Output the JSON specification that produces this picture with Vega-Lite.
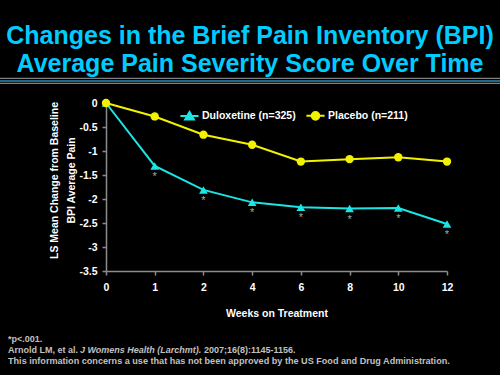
{
  "$schema": "https://vega.github.io/schema/vega-lite/v6.json",
  "autosize": {"type": "none"},
  "width": 341,
  "height": 168,
  "padding": {"left": 106, "top": 103, "right": 53, "bottom": 104},
  "background": "#000000",
  "title": {
    "text": ["Changes in the Brief Pain Inventory (BPI)", "Average Pain Severity Score Over Time"],
    "color": "#00CCFF",
    "font": "Liberation Sans",
    "fontSize": 25,
    "fontWeight": "bold",
    "lineHeight": 27.5,
    "anchor": "middle",
    "frame": "group",
    "dx": -26.5,
    "offset": 1
  },
  "config": {
    "view": {"stroke": null},
    "font": "Liberation Sans",
    "axis": {
      "grid": false,
      "domainColor": "#8C8C8C",
      "tickColor": "#8C8C8C",
      "domainWidth": 1.5,
      "tickWidth": 1.5,
      "tickSize": 4,
      "labelColor": "#FFFFFF",
      "labelFont": "Liberation Sans",
      "labelFontWeight": "bold",
      "labelFontSize": 10.5,
      "titleColor": "#FFFFFF",
      "titleFont": "Liberation Sans",
      "titleFontWeight": "bold",
      "titleFontSize": 10.5
    }
  },
  "resolve": {"scale": {"x": "independent", "y": "independent"}, "axis": {"x": "independent", "y": "independent"}},
  "layer": [
    {
      "data": {
        "values": [
          {"week": 0, "series": "Duloxetine (n=325)", "change": 0, "sig": ""},
          {"week": 1, "series": "Duloxetine (n=325)", "change": -1.31, "sig": "*"},
          {"week": 2, "series": "Duloxetine (n=325)", "change": -1.81, "sig": "*"},
          {"week": 4, "series": "Duloxetine (n=325)", "change": -2.07, "sig": "*"},
          {"week": 6, "series": "Duloxetine (n=325)", "change": -2.17, "sig": "*"},
          {"week": 8, "series": "Duloxetine (n=325)", "change": -2.2, "sig": "*"},
          {"week": 10, "series": "Duloxetine (n=325)", "change": -2.19, "sig": "*"},
          {"week": 12, "series": "Duloxetine (n=325)", "change": -2.52, "sig": "*"},
          {"week": 0, "series": "Placebo (n=211)", "change": 0, "sig": ""},
          {"week": 1, "series": "Placebo (n=211)", "change": -0.28, "sig": ""},
          {"week": 2, "series": "Placebo (n=211)", "change": -0.66, "sig": ""},
          {"week": 4, "series": "Placebo (n=211)", "change": -0.87, "sig": ""},
          {"week": 6, "series": "Placebo (n=211)", "change": -1.22, "sig": ""},
          {"week": 8, "series": "Placebo (n=211)", "change": -1.17, "sig": ""},
          {"week": 10, "series": "Placebo (n=211)", "change": -1.13, "sig": ""},
          {"week": 12, "series": "Placebo (n=211)", "change": -1.22, "sig": ""}
        ]
      },
      "encoding": {
        "x": {
          "field": "week",
          "type": "ordinal",
          "sort": [0, 1, 2, 4, 6, 8, 10, 12],
          "scale": {"type": "point", "padding": 0},
          "axis": {"title": "Weeks on Treatment", "labelAngle": 0, "labelPadding": 7, "titlePadding": 16}
        },
        "y": {
          "field": "change",
          "type": "quantitative",
          "scale": {"domain": [-3.5, 0], "nice": false, "zero": false},
          "axis": {
            "title": ["LS Mean Change from Baseline", "BPI Average Pain"],
            "titleLineHeight": 17,
            "titlePadding": 2,
            "titleY": 77,
            "labelPadding": 5,
            "values": [0, -0.5, -1, -1.5, -2, -2.5, -3, -3.5],
            "labelExpr": "'' + datum.value"
          }
        }
      },
      "layer": [
        {
          "transform": [{"filter": "datum.series === 'Duloxetine (n=325)'"}],
          "mark": {"type": "line", "strokeWidth": 2, "color": "#1AE6E6"}
        },
        {
          "transform": [{"filter": "datum.series === 'Placebo (n=211)'"}],
          "mark": {"type": "line", "strokeWidth": 2, "color": "#F2F200"}
        },
        {
          "transform": [{"filter": "datum.series === 'Duloxetine (n=325)'"}],
          "mark": {"type": "point", "filled": true, "size": 75, "opacity": 1, "shape": "triangle-up", "color": "#1AE6E6"}
        },
        {
          "transform": [{"filter": "datum.series === 'Placebo (n=211)'"}],
          "mark": {"type": "point", "filled": true, "size": 70, "opacity": 1, "shape": "circle", "color": "#F2F200"}
        },
        {
          "transform": [{"filter": "datum.sig === '*'"}],
          "mark": {"type": "text", "dy": 11, "fontSize": 11, "color": "#A8A8A8", "font": "Liberation Sans"},
          "encoding": {"text": {"field": "sig"}}
        },
        {
          "transform": [{"filter": "datum.week < 0"}],
          "mark": {"type": "point", "strokeWidth": 2, "opacity": 1},
          "encoding": {
            "fill": {
              "field": "series",
              "type": "nominal",
              "scale": {"domain": ["Duloxetine (n=325)", "Placebo (n=211)"], "range": ["#1AE6E6", "#F2F200"]},
              "legend": {
                "orient": "none",
                "legendX": 73,
                "legendY": 2,
                "direction": "horizontal",
                "title": null,
                "padding": 0,
                "labelColor": "#FFFFFF",
                "labelFont": "Liberation Sans",
                "labelFontWeight": "bold",
                "labelFontSize": 10.5,
                "labelOffset": 2,
                "columnPadding": 6,
                "symbolSize": 330,
                "symbolStrokeWidth": 2,
                "symbolOpacity": 1
              }
            },
            "stroke": {
              "field": "series",
              "type": "nominal",
              "scale": {"domain": ["Duloxetine (n=325)", "Placebo (n=211)"], "range": ["#1AE6E6", "#F2F200"]}
            },
            "shape": {
              "field": "series",
              "type": "nominal",
              "scale": {"domain": ["Duloxetine (n=325)", "Placebo (n=211)"], "range": ["M-1,0H1M0,-0.45L0.48,0.38H-0.48Z", "M-1,0H1M0.42,0A0.42,0.42 0 1 1 -0.42,0A0.42,0.42 0 1 1 0.42,0Z"]}
            }
          }
        }
      ]
    },
    {
      "data": {"values": [{}]},
      "mark": {"type": "rule", "color": "#7F7F7F", "strokeWidth": 1.3},
      "encoding": {
        "x": {"datum": 0, "type": "quantitative", "scale": {"domain": [106, 447], "zero": false, "nice": false}, "axis": null},
        "x2": {"datum": 500},
        "y": {"datum": 78.3, "type": "quantitative", "scale": {"domain": [103, 271], "reverse": true, "zero": false, "nice": false}, "axis": null}
      }
    },
    {
      "data": {"values": [{}]},
      "mark": {"type": "rule", "color": "#2E8BB8", "strokeWidth": 1.3},
      "encoding": {
        "x": {"datum": 0, "type": "quantitative", "scale": {"domain": [106, 447], "zero": false, "nice": false}, "axis": null},
        "x2": {"datum": 500},
        "y": {"datum": 81, "type": "quantitative", "scale": {"domain": [103, 271], "reverse": true, "zero": false, "nice": false}, "axis": null}
      }
    },
    {
      "data": {"values": [{}]},
      "mark": {"type": "rule", "color": "#7F7F7F", "strokeWidth": 1.3},
      "encoding": {
        "x": {"datum": 0, "type": "quantitative", "scale": {"domain": [106, 447], "zero": false, "nice": false}, "axis": null},
        "x2": {"datum": 500},
        "y": {"datum": 83.4, "type": "quantitative", "scale": {"domain": [103, 271], "reverse": true, "zero": false, "nice": false}, "axis": null}
      }
    },
    {
      "data": {"values": [{}]},
      "mark": {"type": "text", "text": "*p<.001.", "align": "left", "baseline": "alphabetic", "fontSize": 9, "fontWeight": "bold", "color": "#C0C0C0"},
      "encoding": {
        "x": {"datum": 8, "type": "quantitative", "scale": {"domain": [106, 447], "zero": false, "nice": false}, "axis": null},
        "y": {"datum": 342.3, "type": "quantitative", "scale": {"domain": [103, 271], "reverse": true, "zero": false, "nice": false}, "axis": null}
      }
    },
    {
      "data": {"values": [{}]},
      "mark": {"type": "text", "text": "Arnold LM, et al.", "align": "left", "baseline": "alphabetic", "fontSize": 9, "fontWeight": "bold", "color": "#C0C0C0"},
      "encoding": {
        "x": {"datum": 8, "type": "quantitative", "scale": {"domain": [106, 447], "zero": false, "nice": false}, "axis": null},
        "y": {"datum": 353.3, "type": "quantitative", "scale": {"domain": [103, 271], "reverse": true, "zero": false, "nice": false}, "axis": null}
      }
    },
    {
      "data": {"values": [{}]},
      "mark": {"type": "text", "text": "J Womens Health (Larchmt).", "align": "left", "baseline": "alphabetic", "fontSize": 9, "fontWeight": "bold", "fontStyle": "italic", "color": "#C0C0C0"},
      "encoding": {
        "x": {"datum": 80, "type": "quantitative", "scale": {"domain": [106, 447], "zero": false, "nice": false}, "axis": null},
        "y": {"datum": 353.3, "type": "quantitative", "scale": {"domain": [103, 271], "reverse": true, "zero": false, "nice": false}, "axis": null}
      }
    },
    {
      "data": {"values": [{}]},
      "mark": {"type": "text", "text": "2007;16(8):1145-1156.", "align": "left", "baseline": "alphabetic", "fontSize": 9, "fontWeight": "bold", "color": "#C0C0C0"},
      "encoding": {
        "x": {"datum": 204, "type": "quantitative", "scale": {"domain": [106, 447], "zero": false, "nice": false}, "axis": null},
        "y": {"datum": 353.3, "type": "quantitative", "scale": {"domain": [103, 271], "reverse": true, "zero": false, "nice": false}, "axis": null}
      }
    },
    {
      "data": {"values": [{}]},
      "mark": {"type": "text", "text": "This information concerns a use that has not been approved by the US Food and Drug Administration.", "align": "left", "baseline": "alphabetic", "fontSize": 9.1, "fontWeight": "bold", "color": "#C0C0C0"},
      "encoding": {
        "x": {"datum": 8, "type": "quantitative", "scale": {"domain": [106, 447], "zero": false, "nice": false}, "axis": null},
        "y": {"datum": 364, "type": "quantitative", "scale": {"domain": [103, 271], "reverse": true, "zero": false, "nice": false}, "axis": null}
      }
    }
  ]
}
